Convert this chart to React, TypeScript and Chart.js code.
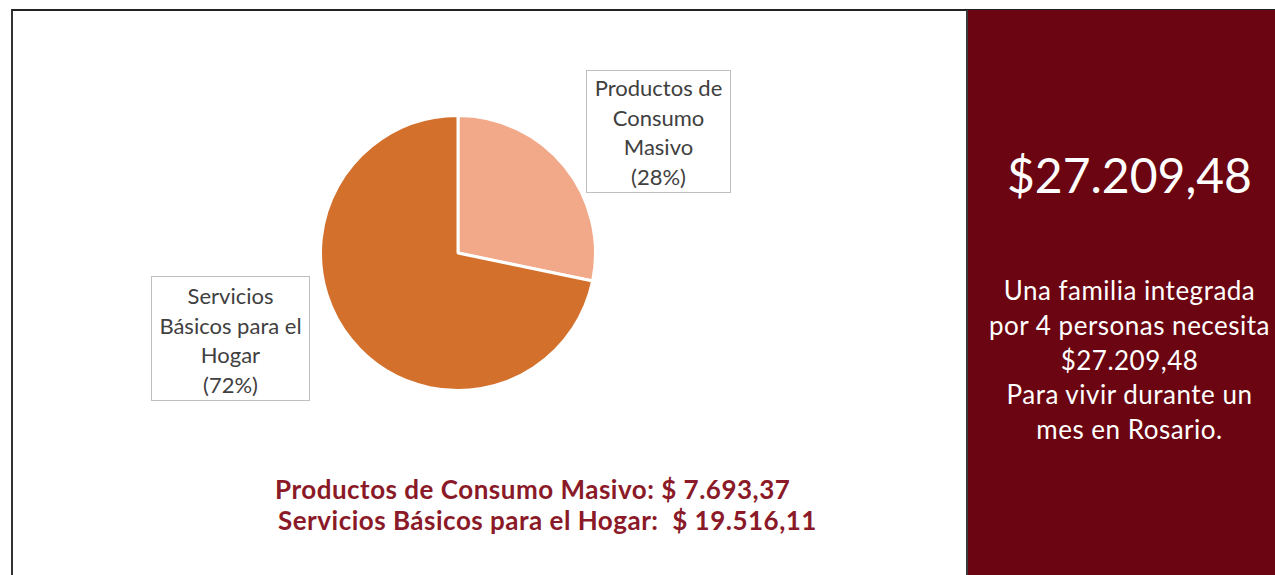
import React, { useEffect, useRef } from "react";
import { Chart, registerables } from "chart.js";

Chart.register(...registerables);

const categories = ["Productos de Consumo Masivo", "Servicios Básicos para el Hogar"];
const labelLines = [["Productos de", "Consumo", "Masivo"], ["Servicios", "Básicos para el", "Hogar"]];
const values = [7693.37, 19516.11];
const sliceColors = ["#F1A98A", "#D2702C"];
const total = 27209.48;
const panelLines = ["Una familia integrada", "por 4 personas necesita", "$27.209,48", "Para vivir durante un", "mes en Rosario."];

function fmt(n: number): string {
  const [i, d] = n.toFixed(2).split(".");
  return i.replace(/\B(?=(\d{3})+(?!\d))/g, ".") + "," + d;
}

const pct = (v: number) => Math.round((v / values.reduce((a, b) => a + b, 0)) * 100);

export default function App() {
  const ref = useRef<HTMLCanvasElement | null>(null);
  useEffect(() => {
    document.body.style.margin = "0";
    const chart = new Chart(ref.current!, {
      type: "pie",
      data: {
        labels: categories,
        datasets: [
          {
            data: values,
            backgroundColor: sliceColors,
            borderColor: "#FFFFFF",
            borderWidth: 3,
          },
        ],
      },
      options: {
        animation: false,
        responsive: false,
        maintainAspectRatio: false,
        layout: { padding: 0 },
        plugins: { legend: { display: false }, tooltip: { enabled: false } },
      },
    });
    return () => chart.destroy();
  }, []);

  const labelBox = (left: number, top: number, w: number, h: number, idx: number, pad: number) => (
    <div
      style={{
        position: "absolute",
        left,
        top,
        width: w,
        height: h,
        boxSizing: "border-box",
        border: "1px solid #BFBFBF",
        background: "#FFFFFF",
        fontFamily: "Lato, 'Open Sans', sans-serif",
        fontSize: 22,
        lineHeight: "29.5px",
        color: "#404040",
        textAlign: "center",
        paddingTop: pad,
        whiteSpace: "nowrap",
      }}
    >
      {labelLines[idx].map((l, i) => (
        <div key={i}>{l}</div>
      ))}
      <div>({pct(values[idx])}%)</div>
    </div>
  );

  return (
    <div style={{ position: "relative", width: 1275, height: 575, overflow: "hidden", background: "#FFFFFF" }}>
      <div
        style={{
          position: "absolute",
          left: 11,
          top: 9,
          width: 1300,
          height: 600,
          borderTop: "2px solid #222222",
          borderLeft: "2px solid #333333",
        }}
      />
      <div
        style={{
          position: "absolute",
          left: 966,
          top: 10,
          width: 309,
          height: 565,
          background: "#6B0511",
          borderLeft: "2px solid #3A3A3A",
          boxSizing: "border-box",
        }}
      />
      <canvas
        ref={ref}
        width={278}
        height={278}
        style={{ position: "absolute", left: 319, top: 114, width: 278, height: 278 }}
      />
      {labelBox(586, 70, 145, 123, 0, 2)}
      {labelBox(151, 276, 159, 125, 1, 4)}
      <div
        style={{
          position: "absolute",
          left: 275,
          top: 474,
          fontFamily: "Lato, sans-serif",
          fontWeight: 700,
          fontSize: 26,
          letterSpacing: "0.5px",
          lineHeight: "30.5px",
          color: "#8B1A28",
          whiteSpace: "pre",
        }}
      >
        <div>{categories[0]}: $ {fmt(values[0])}</div>
        <div style={{ paddingLeft: 3 }}>{categories[1]}:  $ {fmt(values[1])}</div>
      </div>
      <div
        style={{
          position: "absolute",
          left: 968,
          width: 307,
          top: 145,
          textAlign: "center",
          fontFamily: "Lato, sans-serif",
          fontSize: 48,
          lineHeight: "60px",
          color: "#FFFFFF",
          paddingLeft: 16,
          boxSizing: "border-box",
          whiteSpace: "nowrap",
        }}
      >
        ${fmt(total)}
      </div>
      <div
        style={{
          position: "absolute",
          left: 968,
          width: 307,
          top: 273,
          textAlign: "center",
          fontFamily: "Lato, sans-serif",
          fontSize: 26,
          letterSpacing: "0.5px",
          lineHeight: "34.8px",
          color: "#FFFFFF",
          paddingLeft: 16,
          boxSizing: "border-box",
          whiteSpace: "nowrap",
        }}
      >
        {panelLines.map((l, i) => (
          <div key={i}>{l}</div>
        ))}
      </div>
    </div>
  );
}
